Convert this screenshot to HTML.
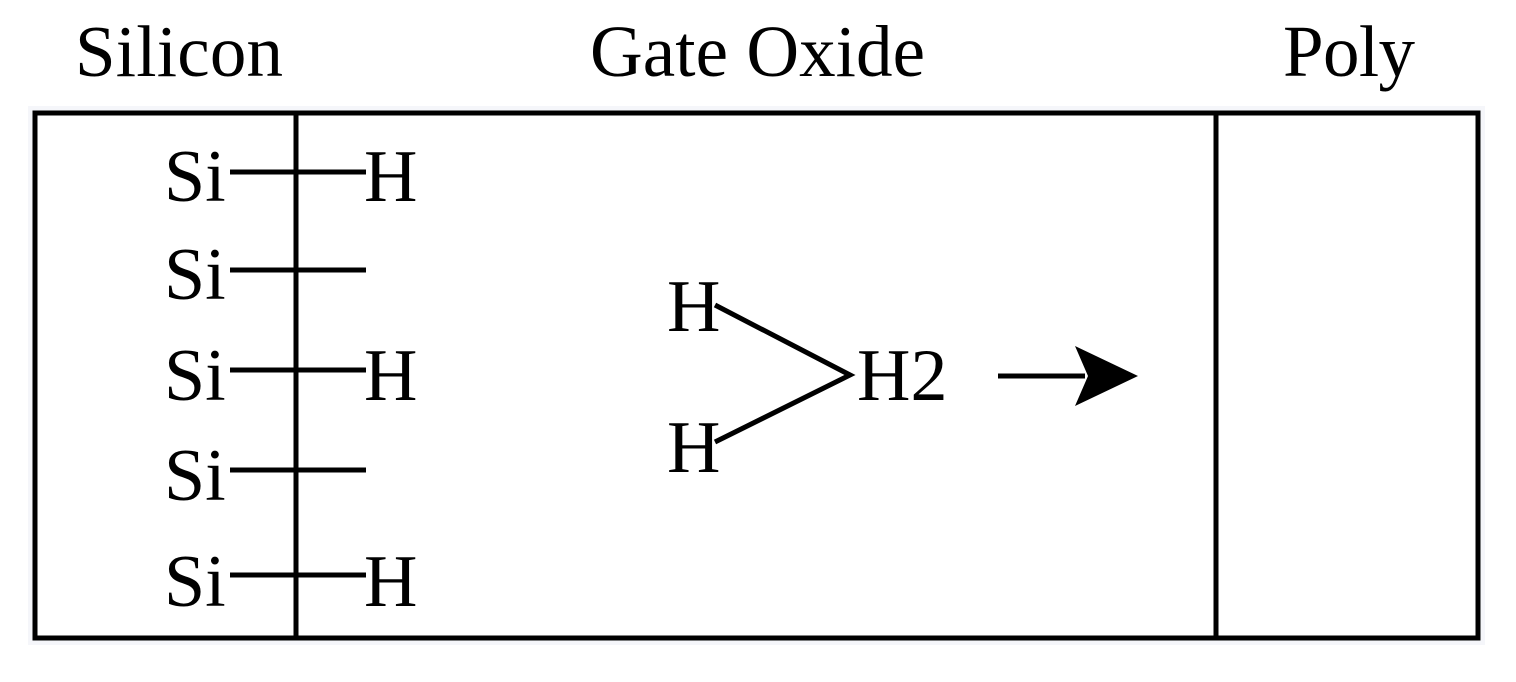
<!DOCTYPE html>
<html><head><style>
html,body{margin:0;padding:0;background:#fff;}
svg{display:block;}
text{font-family:"Liberation Serif",serif;fill:#000;}
</style></head><body>
<svg width="1516" height="682" viewBox="0 0 1516 682" xmlns="http://www.w3.org/2000/svg">
<rect x="31" y="109" width="1451" height="533" fill="none" stroke="#f5f6fa" stroke-width="6"/>
<rect x="35" y="113" width="1443" height="525" fill="#fff" stroke="#000" stroke-width="5"/>
<line x1="296" y1="113" x2="296" y2="638" stroke="#000" stroke-width="5"/>
<line x1="1216" y1="113" x2="1216" y2="638" stroke="#000" stroke-width="5"/>
<g font-size="73">
<text x="75" y="76" textLength="208">Silicon</text>
<text x="590" y="76" textLength="335">Gate Oxide</text>
<text x="1283" y="76" textLength="132">Poly</text>
</g>
<g font-size="74">
<text x="164" y="201">Si</text>
<text x="164" y="299">Si</text>
<text x="164" y="400">Si</text>
<text x="164" y="500">Si</text>
<text x="164" y="606">Si</text>
<text x="364" y="201">H</text>
<text x="364" y="400">H</text>
<text x="364" y="606">H</text>
<text x="667" y="331">H</text>
<text x="667" y="472">H</text>
<text x="857" y="400">H2</text>
</g>
<g stroke="#000" stroke-width="5" fill="none">
<line x1="230" y1="172" x2="366" y2="172"/>
<line x1="230" y1="270" x2="366" y2="270"/>
<line x1="230" y1="370" x2="366" y2="370"/>
<line x1="230" y1="470" x2="366" y2="470"/>
<line x1="230" y1="575" x2="366" y2="575"/>
<polyline points="715,305 850,375 715,442"/>
<line x1="998" y1="376" x2="1085" y2="376"/>
</g>
<path d="M1138,376 L1075,346 L1088,376 L1075,406 Z" fill="#000"/>
</svg>
</body></html>
